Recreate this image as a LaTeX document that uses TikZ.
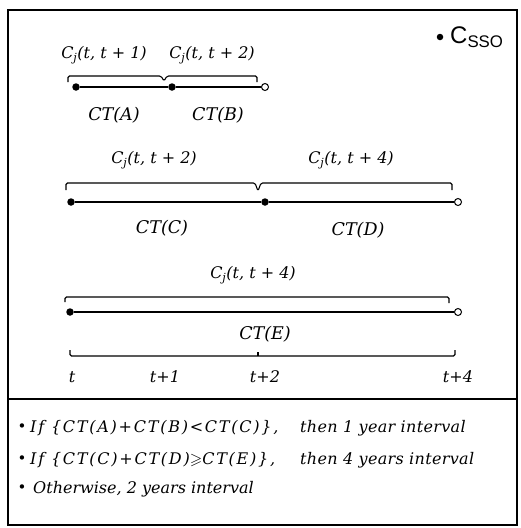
\documentclass[tikz,border=0pt]{standalone}
\usepackage{amssymb}
\usepackage{fontspec}
\setmainfont{DejaVu Serif}
\newfontfamily\labsans{Liberation Sans}
\begin{document}
\begin{tikzpicture}[x=1pt,y=-1pt,
  dotf/.style={circle, fill=black, inner sep=0pt, minimum size=7.5pt},
  doto/.style={circle, draw=black, fill=white, inner sep=0pt, minimum size=7pt, line width=1pt},
  ctlab/.style={font=\fontsize{17.5}{19}\selectfont\itshape, inner sep=0pt},
  cjlab/.style={font=\fontsize{16}{18}\selectfont\itshape, inner sep=0pt},
  ticklab/.style={font=\fontsize{16}{18}\selectfont\itshape, inner sep=0pt},
  condlab/.style={font=\fontsize{16}{18}\selectfont\itshape, inner sep=0pt, anchor=west},
  condwide/.style={condlab, font=\fontsize{16}{18}\selectfont\itshape\addfontfeatures{LetterSpace=11}},
  condthen/.style={condlab, font=\fontsize{16}{18}\selectfont\itshape\addfontfeatures{LetterSpace=2}},
  bul/.style={font=\fontsize{15}{17}\selectfont, inner sep=0pt},
  tline/.style={line width=1.5pt},
  brk/.style={line width=1.1pt, rounded corners=1.5pt},
  frame/.style={line width=1.6pt}
]
\useasboundingbox (0,0) rectangle (520,528);
\fill[white] (0,0) rectangle (520,528);
% frame
\draw[frame] (8,10) rectangle (517,525);
\draw[frame] (8,399) -- (517,399);

% legend
\node[dotf, minimum size=6.5pt] (legdot) at (440,37) {};
\node[inner sep=0pt, anchor=west, font=\labsans\fontsize{24}{26}\selectfont] (legtxt) at (450,37) {C\textsubscript{SSO}};

% ---- row 1
\node[dotf] (a1) at (76,87) {};
\node[dotf] (a2) at (172,87) {};
\node[doto] (a3) at (265,87) {};
\draw[tline] (a1) -- (a2) -- (a3);
\draw[brk] (68,82) -- (68,76) -- (161,76) -- (164,81) -- (167,76) -- (257,76) -- (257,82);
\node[cjlab] (cj1) at (104,55) {C\textsubscript{j}(t, t + 1)};
\node[cjlab] (cj2) at (212,55) {C\textsubscript{j}(t, t + 2)};
\node[ctlab] (cta) at (114,115) {CT(A)};
\node[ctlab] (ctb) at (218,115) {CT(B)};

% ---- row 2
\node[dotf] (b1) at (71,202) {};
\node[dotf] (b2) at (265,202) {};
\node[doto] (b3) at (458,202) {};
\draw[tline] (b1) -- (b2) -- (b3);
\draw[brk] (66,190) -- (66,183) -- (255,183) -- (258,191) -- (261,183) -- (452,183) -- (452,190);
\node[cjlab] (cj3) at (154,160) {C\textsubscript{j}(t, t + 2)};
\node[cjlab] (cj4) at (351,160) {C\textsubscript{j}(t, t + 4)};
\node[ctlab] (ctc) at (162,228) {CT(C)};
\node[ctlab] (ctd) at (358,230) {CT(D)};

% ---- row 3
\node[dotf] (c1) at (70,312) {};
\node[doto] (c2) at (458,312) {};
\draw[tline] (c1) -- (c2);
\draw[brk] (65,302) -- (65,297) -- (449,297) -- (449,303);
\node[cjlab] (cj5) at (253,275) {C\textsubscript{j}(t, t + 4)};
\node[ctlab] (cte) at (265,334) {CT(E)};
\draw[brk] (70,350) -- (70,356) -- (455,356) -- (455,350);
\draw[brk] (258,356) -- (258,352);
\node[ticklab] (t0) at (72,377) {t};
\node[ticklab] (t1) at (165,377) {t+1};
\node[ticklab] (t2) at (265,377) {t+2};
\node[ticklab] (t4) at (458,377) {t+4};

% ---- conditions
\node[bul] (b1c) at (22,428) {•};
\node[condwide] (c1a) at (30,428) {If \{CT(A)+CT(B)<CT(C)\},};
\node[condthen] (c1b) at (300,428) {then 1 year interval};
\node[bul] (b2c) at (22,460) {•};
\node[condwide] (c2a) at (30,460) {If \{CT(C)+CT(D)$\geqslant$CT(E)\},};
\node[condthen] (c2b) at (300,460) {then 4 years interval};
\node[bul] (b3c) at (22,489) {•};
\node[condlab] (c3a) at (33,489) {Otherwise, 2 years interval};
\end{tikzpicture}
\end{document}
